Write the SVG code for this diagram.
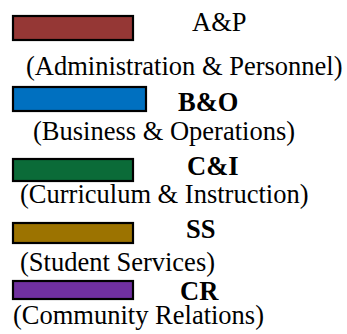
<svg xmlns="http://www.w3.org/2000/svg" width="347" height="334" viewBox="0 0 347 334">
<style>
.sw{stroke:#000;stroke-width:2.2}
.t{font-family:"Liberation Serif","Times New Roman",serif;font-size:26.5px;fill:#000}
.b{font-weight:bold}
</style>
<rect width="347" height="334" fill="#fff"/>
<g id="ap">
<rect class="sw" x="13" y="16" width="120" height="24" fill="#953735"/>
<text class="t" x="192" y="31">A&amp;P</text>
<text class="t" x="26" y="74.5">(Administration &amp; Personnel)</text>
</g>
<g id="bo">
<rect class="sw" x="13" y="87" width="133" height="24" fill="#0070C0"/>
<text class="t b" x="178" y="110.5">B&amp;O</text>
<text class="t" x="33" y="140">(Business &amp; Operations)</text>
</g>
<g id="ci">
<rect class="sw" x="13" y="159" width="120" height="22" fill="#0B6B38"/>
<text class="t b" x="187" y="175">C&amp;I</text>
<text class="t" x="20" y="203">(Curriculum &amp; Instruction)</text>
</g>
<g id="ss">
<rect class="sw" x="13" y="223" width="120" height="20" fill="#9C7300"/>
<text class="t b" x="186" y="237.5">SS</text>
<text class="t" x="20" y="270.5">(Student Services)</text>
</g>
<g id="cr">
<rect class="sw" x="13" y="281" width="120" height="18" fill="#7030A0"/>
<text class="t b" x="180" y="300">CR</text>
<text class="t" x="13" y="324">(Community Relations)</text>
</g>
<g id="connectors"/>
</svg>
